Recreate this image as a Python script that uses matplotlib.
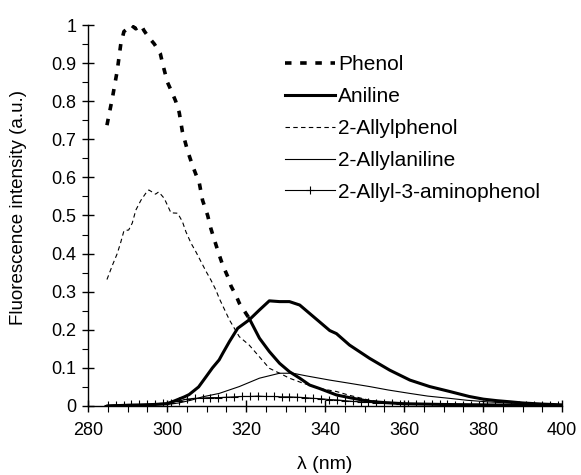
import numpy as np
import matplotlib
matplotlib.use("Agg")
import matplotlib.pyplot as plt
from matplotlib.ticker import MultipleLocator, FormatStrFormatter

plt.rcParams['font.family'] = ['Liberation Sans', 'DejaVu Sans']

# ── data (wavelength in nm, intensity in a.u.) ──
phenol_x = [284.8, 286.2, 287.4, 288.3, 289.1, 290.0, 290.9, 291.5, 292.1, 292.8,
            293.4, 294.2, 295.2, 296.8, 298.3, 299.1, 300.1, 301.4, 302.2, 303.1,
            303.9, 305.2, 306.5, 308.2, 309.0, 310.3, 311.1, 312.0, 313.1, 314.1,
            315.4, 316.2, 317.6, 318.3, 320.8, 323.4, 325.9, 328.5, 331.0, 333.6,
            336.1, 338.6, 342.9, 346.2, 351.3, 355.0, 360.0, 370.0, 380.0, 390.0, 400.0]
phenol_y = [0.737, 0.81, 0.88, 0.95, 0.983, 0.99, 1.0, 0.995, 0.99, 0.995,
            1.0, 0.985, 0.97, 0.95, 0.925, 0.89, 0.85, 0.82, 0.80, 0.77,
            0.72, 0.67, 0.63, 0.584, 0.54, 0.50, 0.466, 0.436, 0.40, 0.37,
            0.339, 0.315, 0.287, 0.27, 0.23, 0.178, 0.143, 0.112, 0.09, 0.073,
            0.055, 0.046, 0.029, 0.022, 0.012, 0.009, 0.006, 0.004, 0.003, 0.002, 0.001]

aniline_x = [285, 290, 295, 300, 301.8, 304.4, 305.6, 308, 309.9, 311.5, 313.2,
             314.1, 315.8, 317.9, 320.8, 323.4, 325.9, 328.5, 331.0, 333.6, 336.1,
             338.6, 341.2, 342.9, 346.2, 351.3, 356.4, 361.5, 366.5, 371.6, 376.5,
             380.1, 383.5, 386.9, 390, 395, 400]
aniline_y = [0.0, 0.002, 0.003, 0.006, 0.013, 0.024, 0.03, 0.05, 0.077, 0.10, 0.121,
             0.138, 0.169, 0.204, 0.226, 0.252, 0.276, 0.274, 0.274, 0.265, 0.243,
             0.221, 0.198, 0.19, 0.16, 0.125, 0.094, 0.068, 0.051, 0.038, 0.025,
             0.018, 0.014, 0.011, 0.008, 0.005, 0.003]

allylphenol_x = [284.8, 286.2, 287.4, 288.3, 289.1, 290.3, 291.2, 292.1, 293.4, 294.6,
                 295.4, 297.1, 297.9, 299.3, 301.0, 302.7, 303.9, 304.8, 306.1, 307.3,
                 308.6, 309.9, 311.1, 312.4, 313.2, 315.8, 318.3, 320.8, 323.4, 325.9,
                 328.5, 331.0, 334.4, 338.6, 342.9, 346.2, 351.3, 355, 360, 370,
                 380, 390, 400]
allylphenol_y = [0.332, 0.37, 0.40, 0.43, 0.46, 0.462, 0.48, 0.514, 0.54, 0.558,
                 0.567, 0.556, 0.562, 0.545, 0.507, 0.506, 0.484, 0.457, 0.427, 0.405,
                 0.379, 0.353, 0.331, 0.304, 0.283, 0.226, 0.182, 0.16, 0.129, 0.099,
                 0.086, 0.073, 0.06, 0.046, 0.038, 0.028, 0.015, 0.01, 0.007, 0.004,
                 0.002, 0.001, 0.001]

allylaniline_x = [285, 290, 295, 300, 303, 306, 309, 313.2, 318.3, 323.4, 328.5, 331.9,
                  335.3, 341.2, 346, 351.3, 356, 361.5, 366, 371.6, 376, 381, 386,
                  390, 395, 400]
allylaniline_y = [0.0, 0.001, 0.002, 0.004, 0.008, 0.015, 0.024, 0.033, 0.051, 0.073,
                  0.086, 0.086, 0.079, 0.068, 0.06, 0.051, 0.042, 0.033, 0.026, 0.02,
                  0.015, 0.011, 0.008, 0.006, 0.004, 0.003]

aminophenol_x = list(range(285, 400, 2))
aminophenol_y = [0.002, 0.003, 0.003, 0.004, 0.004, 0.005, 0.006, 0.007, 0.009, 0.013,
                 0.018, 0.020, 0.021, 0.022, 0.022, 0.023, 0.024, 0.025, 0.025, 0.026,
                 0.025, 0.025, 0.024, 0.024, 0.023, 0.022, 0.020, 0.019, 0.017, 0.016,
                 0.014, 0.012, 0.011, 0.010, 0.009, 0.008, 0.007, 0.006, 0.006, 0.005,
                 0.005, 0.004, 0.004, 0.004, 0.003, 0.003, 0.003, 0.003, 0.002, 0.002,
                 0.002, 0.002, 0.002, 0.002, 0.002, 0.002, 0.002, 0.002]

x_ticks = [280, 300, 320, 340, 360, 380, 400]

fig = plt.figure(figsize=(5.81, 4.75), dpi=100)
ax = fig.add_axes([88 / 581, 1 - 406 / 475, 474 / 581, 381 / 475])

# phenol: the dense points read as solid past ~321 nm in the original
px = np.array(phenol_x)
py = np.array(phenol_y)
ax.plot(px[px <= 320.8], py[px <= 320.8], color='black', lw=2.6,
        ls=(0, (1.8, 2.4)), label='Phenol')
ax.plot(px[px >= 320.8], py[px >= 320.8], color='black', lw=2.2)
ax.plot(aniline_x, aniline_y, color='black', lw=2.2, label='Aniline')
ax.plot(allylphenol_x, allylphenol_y, color='black', lw=0.8, ls=(0, (4, 3)),
        label='2-Allylphenol')
ax.plot(allylaniline_x, allylaniline_y, color='black', lw=0.8, label='2-Allylaniline')
ax.plot(aminophenol_x, aminophenol_y, color='black', lw=0.8, marker='+', ms=6, mew=0.8,
        label='2-Allyl-3-aminophenol')

ax.set_xlim(280, 400)
ax.set_ylim(0, 1.0)
ax.set_xticks(x_ticks)
ax.xaxis.set_minor_locator(MultipleLocator(5))
ax.yaxis.set_major_locator(MultipleLocator(0.1))
ax.yaxis.set_minor_locator(MultipleLocator(0.05))
ax.yaxis.set_major_formatter(FormatStrFormatter('%g'))

for s in ['top', 'right']:
    ax.spines[s].set_visible(False)
for s in ['left', 'bottom']:
    ax.spines[s].set_linewidth(1.0)
    ax.spines[s].set_clip_on(False)

ax.tick_params(which='major', direction='inout', length=9, width=1.0, labelsize=13,
               pad=4)
ax.tick_params(which='minor', direction='out', length=4, width=0.8)
ax.tick_params(axis='x', which='major', pad=7)

ax.set_xlabel('λ (nm)', fontsize=14, labelpad=12)
ax.set_ylabel('Fluorescence intensity (a.u.)', fontsize=13.5)
ax.yaxis.set_label_coords(-0.128, 0.521)

ax.legend(loc='upper left', bbox_to_anchor=(0.4156, 0.921), frameon=False,
          fontsize=15, handlelength=2.4, handletextpad=0.15, labelspacing=0.62,
          borderaxespad=0, borderpad=0)

fig.savefig('out.png', dpi=100)
